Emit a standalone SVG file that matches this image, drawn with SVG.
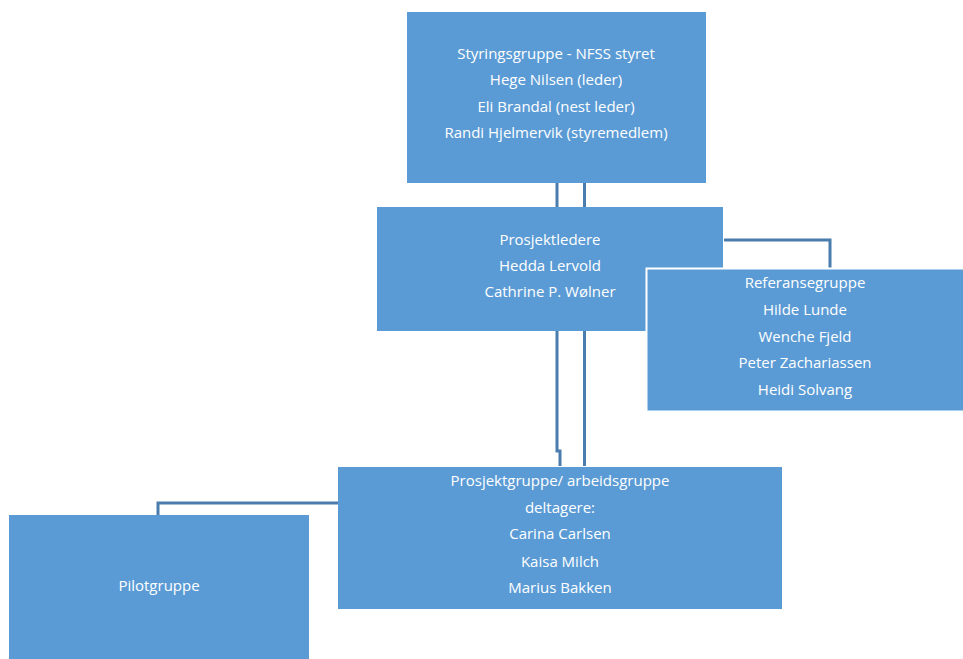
<svg xmlns="http://www.w3.org/2000/svg" width="963" height="659" viewBox="0 0 963 659">
<style>
.box{fill:#5B9BD5;}
.t{fill:#ffffff;font-family:"Open Sans","Liberation Sans",sans-serif;font-size:15px;text-anchor:middle;}
.c{fill:none;stroke:#4A7DAE;stroke-width:3;}
</style>
<rect width="963" height="659" fill="#ffffff"/>
<g id="connectors">
<path class="c" d="M557,183 V207"/>
<path class="c" d="M584.5,183 V207"/>
<path class="c" d="M557,331 V451 H560 V466"/>
<path class="c" d="M584.5,331 V466"/>
<path class="c" d="M724,240 H830 V269"/>
<path class="c" d="M338,503 H158 V515"/>
</g>
<g id="styringsgruppe">
<rect class="box" x="407" y="12" width="299" height="171"/>
<text class="t" x="556" y="59">Styringsgruppe - NFSS styret</text>
<text class="t" x="556" y="85">Hege Nilsen (leder)</text>
<text class="t" x="556" y="112">Eli Brandal (nest leder)</text>
<text class="t" x="556" y="138">Randi Hjelmervik (styremedlem)</text>
</g>
<g id="prosjektledere">
<rect class="box" x="377" y="207" width="346" height="124"/>
<text class="t" x="550" y="245">Prosjektledere</text>
<text class="t" x="550" y="271">Hedda Lervold</text>
<text class="t" x="550" y="297">Cathrine P. Wølner</text>
</g>
<g id="referansegruppe">
<rect class="box" x="646.5" y="268.5" width="318" height="143" stroke="#ffffff" stroke-width="2"/>
<text class="t" x="805" y="288">Referansegruppe</text>
<text class="t" x="805" y="315">Hilde Lunde</text>
<text class="t" x="805" y="342">Wenche Fjeld</text>
<text class="t" x="805" y="368">Peter Zachariassen</text>
<text class="t" x="805" y="395">Heidi Solvang</text>
</g>
<g id="prosjektgruppe">
<rect class="box" x="338" y="467" width="444" height="142"/>
<text class="t" x="560" y="486">Prosjektgruppe/ arbeidsgruppe</text>
<text class="t" x="560" y="513">deltagere:</text>
<text class="t" x="560" y="539">Carina Carlsen</text>
<text class="t" x="560" y="567">Kaisa Milch</text>
<text class="t" x="560" y="593">Marius Bakken</text>
</g>
<g id="pilotgruppe">
<rect class="box" x="9" y="515" width="300" height="150"/>
<text class="t" x="159" y="591">Pilotgruppe</text>
</g>
</svg>
